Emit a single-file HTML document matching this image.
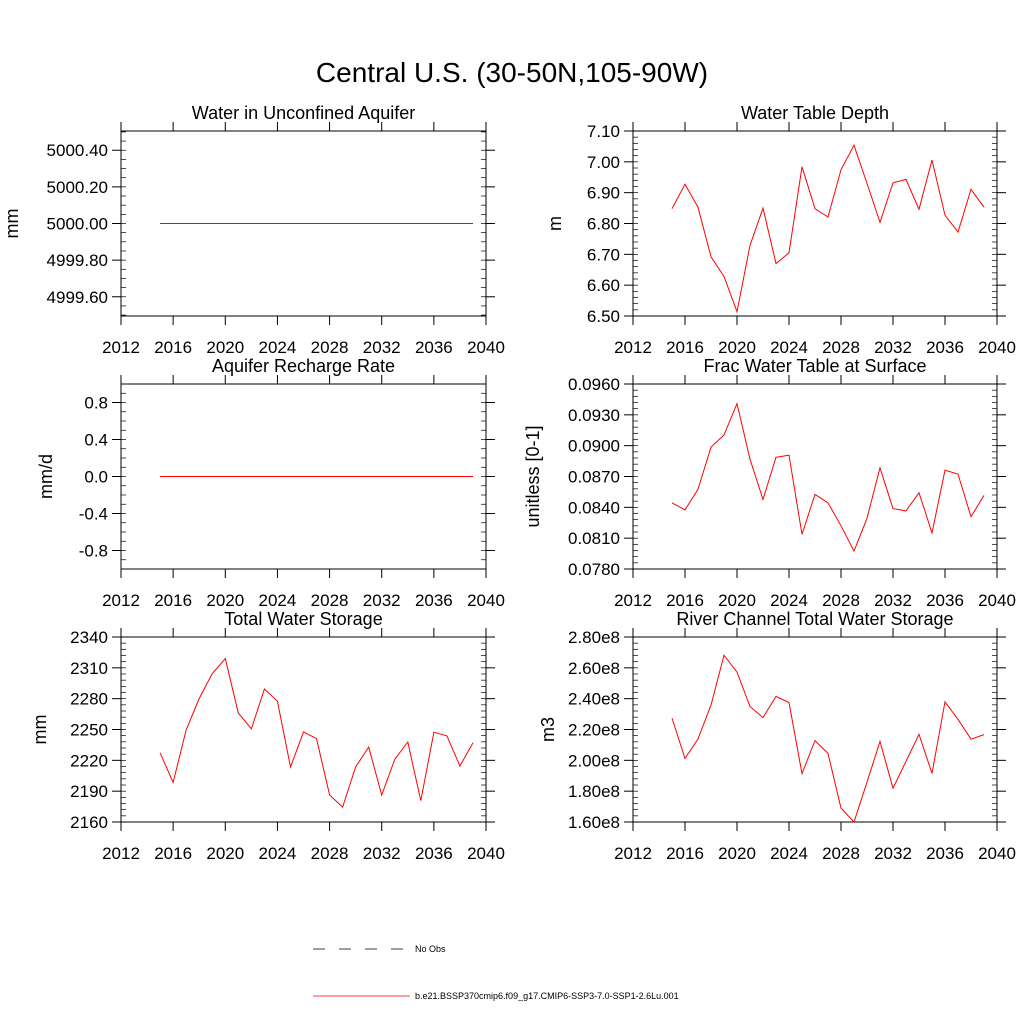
<!DOCTYPE html>
<html><head><meta charset="utf-8"><style>
body{margin:0;background:#fff;}
svg text{font-family:"Liberation Sans",sans-serif;fill:#000;}
</style></head><body>
<svg id="c" width="1024" height="1024" viewBox="0 0 1024 1024" xmlns="http://www.w3.org/2000/svg">
<text x="512" y="82" font-size="28" text-anchor="middle">Central U.S. (30-50N,105-90W)</text>
<g>
<line x1="313" y1="949" x2="410" y2="949" stroke="#000" stroke-width="0.8" stroke-dasharray="12,14"/>
<text x="415" y="952" font-size="9">No Obs</text>
<line x1="313" y1="996" x2="410" y2="996" stroke="red" stroke-width="0.8"/>
<text x="415" y="999" font-size="9">b.e21.BSSP370cmip6.f09_g17.CMIP6-SSP3-7.0-SSP1-2.6Lu.001</text>
</g>
</svg>
<script>
const years=[2015,2016,2017,2018,2019,2020,2021,2022,2023,2024,2025,2026,2027,2028,2029,2030,2031,2032,2033,2034,2035,2036,2037,2038,2039];
const xTicks=[2012,2016,2020,2024,2028,2032,2036,2040];
const aquiferVals=years.map(()=>5000.0);
const rechargeVals=years.map(()=>0.0);
const wtdVals=[6.848,6.927,6.853,6.692,6.628,6.514,6.729,6.850,6.670,6.705,6.984,6.848,6.821,6.974,7.054,6.930,6.804,6.932,6.943,6.846,7.006,6.827,6.772,6.911,6.853];
const fracVals=[0.08444,0.08375,0.08575,0.08986,0.09104,0.09409,0.08867,0.08477,0.08887,0.08907,0.08138,0.08526,0.08444,0.08220,0.07974,0.08293,0.08785,0.08388,0.08365,0.08542,0.08151,0.08762,0.08723,0.08309,0.08516];
const twsVals=[2227.3,2198.4,2249.7,2280.2,2304.5,2319.0,2266.1,2250.7,2289.4,2277.6,2213.5,2247.7,2241.1,2186.3,2174.5,2213.5,2232.9,2186.3,2221.1,2237.8,2180.7,2247.4,2243.8,2214.5,2237.2];
const riverVals=[2.274,2.012,2.139,2.358,2.682,2.572,2.349,2.277,2.415,2.375,1.913,2.128,2.045,1.690,1.600,1.858,2.123,1.819,1.994,2.169,1.915,2.380,2.266,2.137,2.167];
const aquiferTicks=[4999.6,4999.8,5000.0,5000.2,5000.4];
const rechargeTicks=[-0.8,-0.4,0.0,0.4,0.8];
const wtdTicks=[6.5,6.6,6.7,6.8,6.9,7.0,7.1];
const fracTicks=[0.078,0.081,0.084,0.087,0.090,0.093,0.096];
const twsTicks=[2160,2190,2220,2250,2280,2310,2340];
const riverTicks=[1.6,1.8,2.0,2.2,2.4,2.6,2.8];

const NS="http://www.w3.org/2000/svg";
const svg=document.getElementById('c');
function mk(tag,attrs,parent){const e=document.createElementNS(NS,tag);for(const k in attrs)e.setAttribute(k,attrs[k]);parent.appendChild(e);return e;}

const panels=[
 {id:'aquifer',title:'Water in Unconfined Aquifer',unit:'mm',x0:121,x1:486,y0:131,y1:316,min:4999.495,max:5000.505,ticks:aquiferTicks,minor:0.05,fmt:v=>v.toFixed(2),vals:aquiferVals,ux:12},
 {id:'wtd',title:'Water Table Depth',unit:'m',x0:633,x1:997,y0:131,y1:316,min:6.5,max:7.1,ticks:wtdTicks,minor:0.02,fmt:v=>v.toFixed(2),vals:wtdVals,ux:555},
 {id:'recharge',title:'Aquifer Recharge Rate',unit:'mm/d',x0:121,x1:486,y0:384,y1:569,min:-1,max:1,ticks:rechargeTicks,minor:0.1,fmt:v=>v.toFixed(1),vals:rechargeVals,ux:46},
 {id:'frac',title:'Frac Water Table at Surface',unit:'unitless [0-1]',x0:633,x1:997,y0:384,y1:569,min:0.078,max:0.096,ticks:fracTicks,minor:0.0006,fmt:v=>v.toFixed(4),vals:fracVals,ux:533},
 {id:'tws',title:'Total Water Storage',unit:'mm',x0:121,x1:486,y0:637,y1:822,min:2160,max:2340,ticks:twsTicks,minor:6,fmt:v=>v.toFixed(0),vals:twsVals,ux:40},
 {id:'river',title:'River Channel Total Water Storage',unit:'m3',x0:633,x1:997,y0:637,y1:822,min:1.6,max:2.8,ticks:riverTicks,minor:0.04,fmt:v=>v.toFixed(2)+'e8',vals:riverVals,ux:548}
];
panels.forEach(p=>{
 const g=mk('g',{},svg);
 
 
 const sx=v=>p.x0+(v-2012)/(2040-2012)*(p.x1-p.x0);
 const sy=v=>p.y1-(v-p.min)/(p.max-p.min)*(p.y1-p.y0);
 const fr=mk('rect',{x:p.x0,y:p.y0,width:p.x1-p.x0,height:p.y1-p.y0,fill:'none',stroke:'#000','stroke-width':1},g);
 
 
 const t=mk('text',{x:(p.x0+p.x1)/2,y:p.y0-12,'font-size':18,'text-anchor':'middle'},g);
 t.textContent=p.title;
 
 
 const u=mk('text',{x:p.ux,y:(p.y0+p.y1)/2,'font-size':18,'text-anchor':'middle',transform:`rotate(-90 ${p.ux} ${(p.y0+p.y1)/2})`,dy:6},g);
 u.textContent=p.unit;
 
 
 // minor ticks
 const n=Math.round((p.max-p.min)/p.minor);
 const start=Math.ceil(p.min/p.minor-1e-6);
 for(let k=start;k*p.minor<=p.max+1e-9;k++){
  const y=sy(k*p.minor);
  mk('line',{x1:p.x0,x2:p.x0+5,y1:y,y2:y,stroke:'#000','stroke-width':0.7},g);
  mk('line',{x1:p.x1,x2:p.x1-5,y1:y,y2:y,stroke:'#000','stroke-width':0.7},g);
 }
 p.ticks.forEach(v=>{
  const y=sy(v);
  mk('line',{x1:p.x0-9,x2:p.x0,y1:y,y2:y,stroke:'#000','stroke-width':1},g);
  mk('line',{x1:p.x1,x2:p.x1+9,y1:y,y2:y,stroke:'#000','stroke-width':1},g);
  const tl=mk('text',{x:p.x0-13,y:y+6,'font-size':17,'text-anchor':'end'},g);
  tl.textContent=p.fmt(v);
  
  
 });
 xTicks.forEach(v=>{
  const x=sx(v);
  mk('line',{x1:x,x2:x,y1:p.y1,y2:p.y1+9,stroke:'#000','stroke-width':1},g);
  mk('line',{x1:x,x2:x,y1:p.y0,y2:p.y0-9,stroke:'#000','stroke-width':1},g);
  const tl=mk('text',{x:x,y:p.y1+37,'font-size':17,'text-anchor':'middle'},g);
  tl.textContent=v;
  
  
 });
 const pts=years.map((yr,i)=>sx(yr).toFixed(1)+','+sy(p.vals[i]).toFixed(1)).join(' ');
 const pl=mk('polyline',{points:pts,fill:'none',stroke:'red','stroke-width':1},g);
 
 
});
</script>
</body></html>
